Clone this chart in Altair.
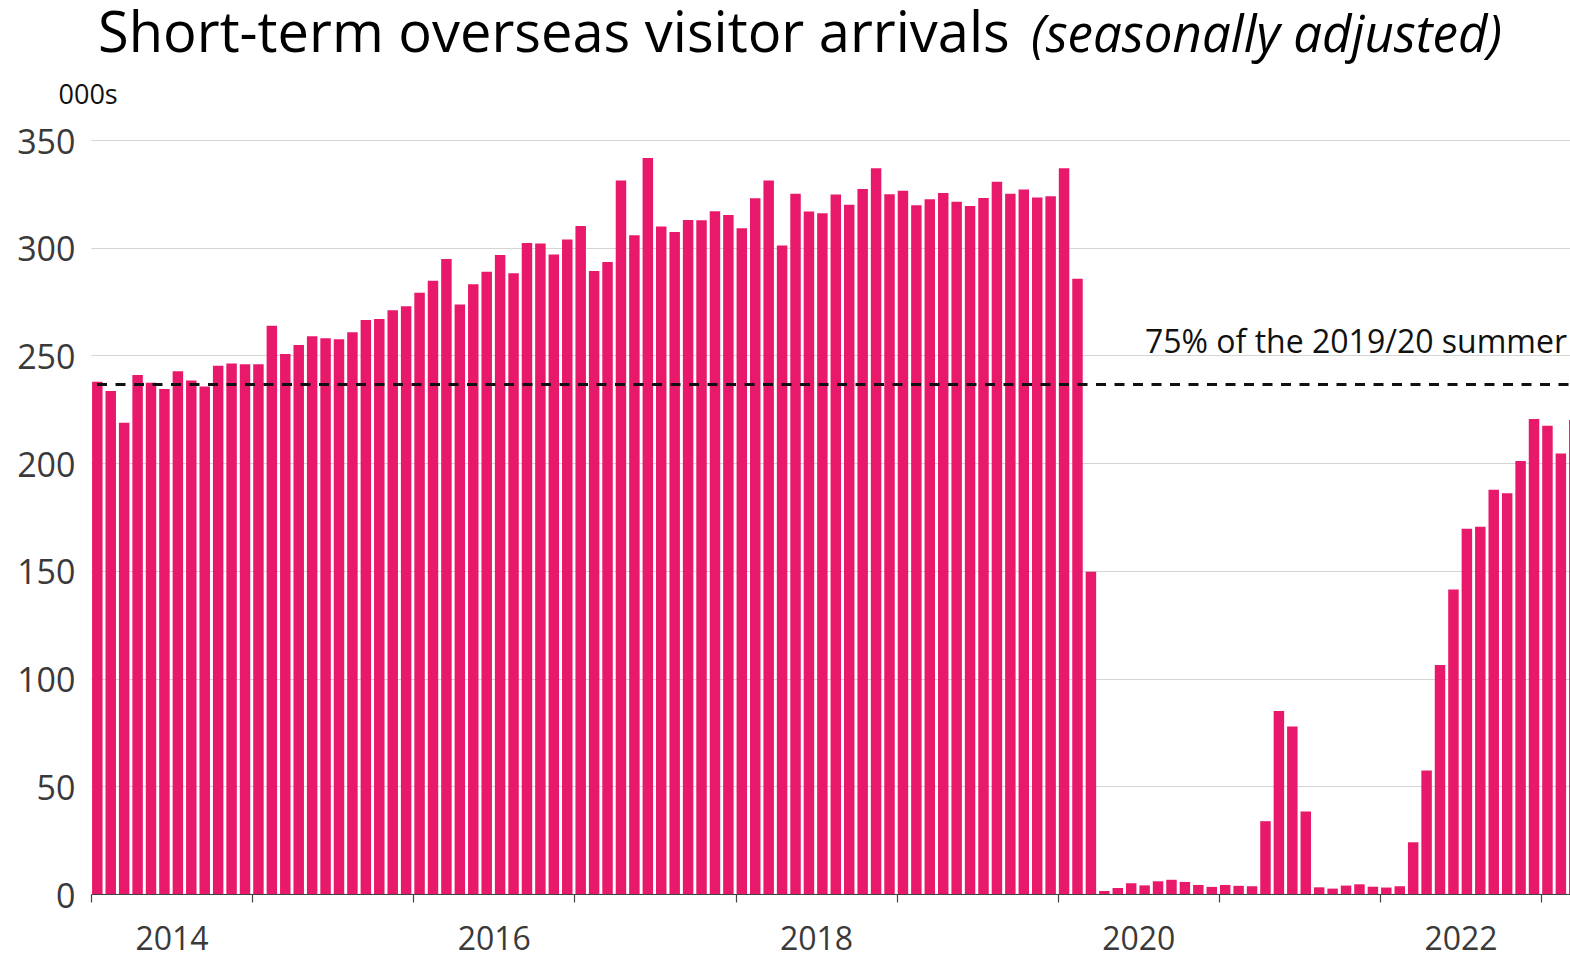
import altair as alt
import pandas as pd

# Monthly short-term overseas visitor arrivals (000s), Jan 2014 - Mar 2023
months = pd.date_range("2014-01-01", "2023-03-01", freq="MS").strftime("%Y-%m").tolist()
arrivals = [
    # 2014
    237.8, 233.5, 218.8, 240.9, 237.3, 234.4, 242.6, 238.4, 235.6, 245.2, 246.3, 245.9,
    # 2015
    245.9, 263.8, 250.7, 254.8, 258.9, 258.0, 257.5, 260.8, 266.5, 266.9, 271.0, 272.8,
    # 2016
    279.1, 284.7, 294.8, 273.6, 283.0, 288.9, 296.6, 288.1, 302.2, 301.9, 296.8, 303.8,
    # 2017
    310.1, 289.2, 293.4, 331.2, 305.8, 341.6, 309.8, 307.3, 312.9, 312.8, 316.9, 315.2,
    # 2018
    309.0, 323.0, 331.2, 301.0, 325.1, 316.8, 316.0, 324.7, 320.0, 327.2, 336.9, 324.8,
    # 2019
    326.5, 319.7, 322.5, 325.4, 321.3, 319.4, 323.1, 330.6, 325.1, 327.0, 323.3, 323.9,
    # 2020
    336.9, 285.6, 149.6, 1.4, 2.8, 5.0, 4.0, 5.9, 6.6, 5.6, 4.2, 3.3,
    # 2021
    4.2, 3.8, 3.6, 33.8, 85.0, 77.7, 38.3, 3.1, 2.5, 3.9, 4.5, 3.4,
    # 2022
    3.0, 3.6, 24.0, 57.3, 106.3, 141.3, 169.5, 170.5, 187.7, 186.0, 201.0, 220.5,
    # 2023
    217.4, 204.5, 220.0,
]
threshold = [236.5]          # 75% of the 2019/20 summer
threshold_label = ["75% of the 2019/20 summer"]
title_main = ["Short-term overseas visitor arrivals"]
title_italic = ["(seasonally adjusted)"]
year_ticks = [0, 12, 24, 36, 48, 60, 72, 84, 96, 108]
first_year = 2014

df = pd.DataFrame({"month": months, "idx": list(range(len(months))), "value": arrivals})

W, H = 1479, 754
FONT = "Open Sans"
X_END = 110.15
PX_PER_MONTH = W / X_END

x_scale = alt.Scale(domain=[0, X_END], nice=False, zero=False, padding=0)
y_scale = alt.Scale(domain=[0, 350], nice=False, padding=0)

bars = (
    alt.Chart(df)
    .transform_calculate(x0="datum.idx + 0.08", x1="datum.idx + 0.86")
    .mark_bar(color="#E8196A", clip=True, orient="vertical")
    .encode(
        x=alt.X(
            "x0:Q",
            scale=x_scale,
            axis=alt.Axis(
                values=year_ticks,
                labelExpr=f"datum.value % 24 == 0 ? toString({first_year} + datum.value / 12) : ''",
                labelOffset=6 * PX_PER_MONTH,
                labelFlush=False,
                labelOverlap=False,
                labelBound=False,
                labelFont=FONT,
                labelFontSize=32,
                labelColor="#3a3a3a",
                labelPadding=22,
                labelBaseline="top",
                tickSize=8,
                tickColor="#444",
                tickWidth=1.2,
                domainColor="#444",
                domainWidth=1.2,
                grid=False,
                title=None,
            ),
        ),
        x2="x1:Q",
        y=alt.Y(
            "value:Q",
            scale=y_scale,
            axis=alt.Axis(
                values=[0, 50, 100, 150, 200, 250, 300, 350],
                grid=True,
                gridColor="#d4d4d4",
                gridWidth=1.2,
                domain=False,
                ticks=False,
                tickSize=0,
                labelFont=FONT,
                labelFontSize=34,
                labelColor="#3a3a3a",
                labelPadding=16,
                labelOffset=3,
                title="000s",
                titleAngle=0,
                titleAlign="left",
                titleBaseline="alphabetic",
                titleX=-33,
                titleY=-37,
                titleFont=FONT,
                titleFontSize=27,
                titleFontWeight="normal",
                titleColor="#111",
            ),
        ),
        y2=alt.datum(0),
        tooltip=["month:N", "value:Q"],
    )
)

thr_df = pd.DataFrame({"value": threshold, "label": threshold_label})

rule = (
    alt.Chart(thr_df)
    .mark_rule(color="#111", strokeDash=[10, 8.5], strokeWidth=2.8)
    .encode(y=alt.Y("value:Q", scale=y_scale), x=alt.value(6), x2=alt.value(W))
)

rule_text = (
    alt.Chart(thr_df)
    .mark_text(align="left", baseline="alphabetic", dy=-32, font=FONT, fontSize=32, color="#111")
    .encode(y=alt.Y("value:Q", scale=y_scale), x=alt.value(1054), text="label:N")
)

t1 = (
    alt.Chart(pd.DataFrame({"t": title_main}))
    .mark_text(align="left", baseline="alphabetic", font=FONT, fontSize=56, color="#000")
    .encode(text="t:N", x=alt.value(7), y=alt.value(-88))
)
t2 = (
    alt.Chart(pd.DataFrame({"t": title_italic}))
    .mark_text(align="right", baseline="alphabetic", font=FONT, fontSize=51, fontStyle="italic", color="#000")
    .encode(text="t:N", x=alt.value(1411), y=alt.value(-88))
)

chart = (
    alt.layer(bars, rule, rule_text, t1, t2)
    .properties(
        width=W,
        height=H,
        padding={"left": 91, "top": 140, "right": 0, "bottom": 63},
        autosize=alt.AutoSizeParams(type="none"),
        background="white",
    )
    .configure_view(stroke=None)
)

chart.save("out.html", embed_options={"renderer": "svg", "actions": False})
